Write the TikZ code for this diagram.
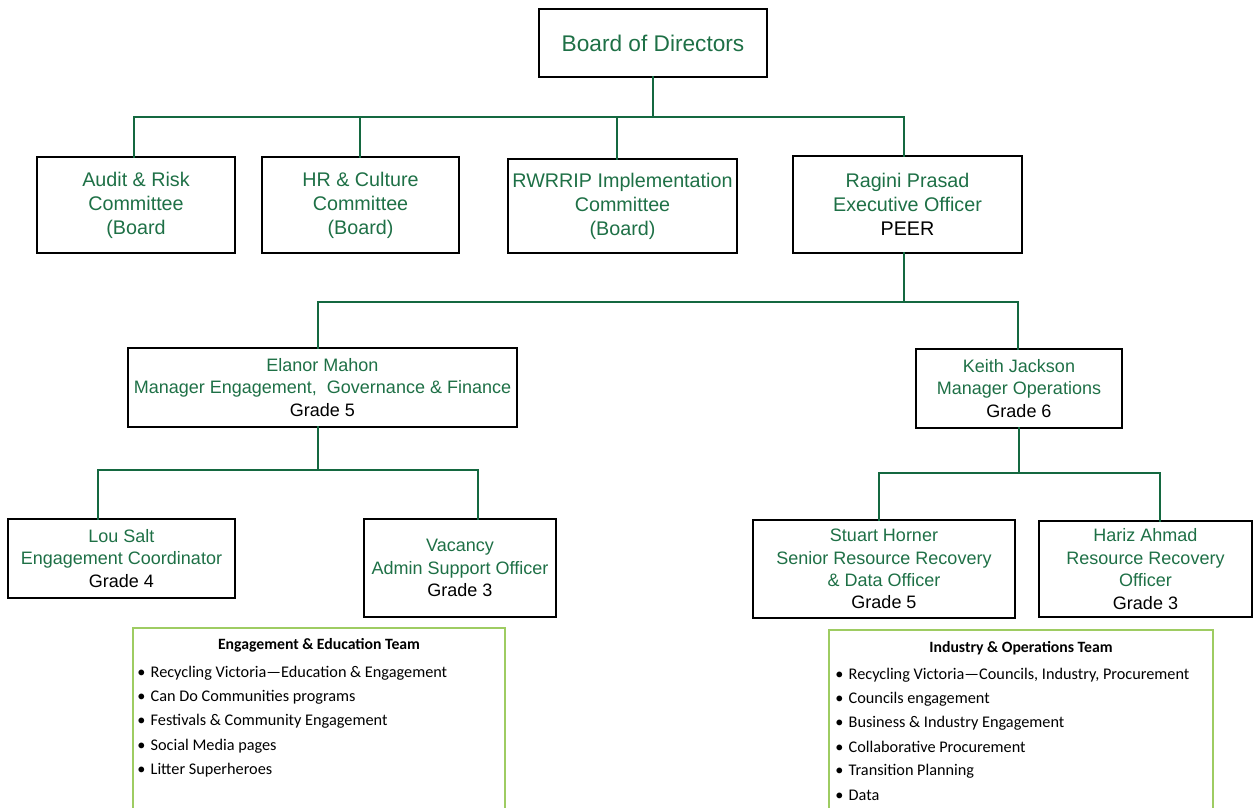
\documentclass[tikz,border=0pt]{standalone}
\usepackage{fontspec}
\setmainfont{Liberation Sans}
\newfontfamily\teamfont{Carlito}
\usetikzlibrary{positioning}
\definecolor{orggreen}{RGB}{30,112,70}
\definecolor{linegreen}{RGB}{20,104,64}
\definecolor{teamgreen}{RGB}{158,204,98}
\tikzset{
    boardbox/.style={draw=black, line width=1pt, align=center, text=orggreen, font=\fontsize{17}{20}\selectfont},
    committee/.style={draw=black, line width=1.1pt, align=center, text=orggreen, font=\fontsize{14.8}{18}\selectfont},
    staff/.style={draw=black, line width=0.9pt, align=center, text=orggreen, font=\fontsize{13.5}{16.8}\selectfont},
    link/.style={draw=linegreen, line width=2.2pt, line cap=rect},
    team/.style={draw=teamgreen, line width=1.5pt},
    teamtitle/.style={font=\teamfont\bfseries\fontsize{11.8}{13}\selectfont},
    teamitem/.style={anchor=west, inner sep=0pt, font=\teamfont\fontsize{12.2}{14}\selectfont}
}

\begin{document}
\begin{tikzpicture}[x=0.75pt, y=-0.75pt]
        \useasboundingbox (0,0) rectangle (1253,807);
        \clip (0,0) rectangle (1253,807);

        % -----------------------------------------------------------------
        % BOARD AND COMMITTEES
        % -----------------------------------------------------------------
        \node[boardbox, minimum width=171pt, minimum height=51pt] (board) at (653,43) {Board of Directors};

        \node[committee, minimum width=148.5pt, minimum height=72pt] (audit) at (136,205) {Audit \& Risk\\Committee\\(Board};
        \node[committee, minimum width=147.75pt, minimum height=72pt] (hr) at (360.5,205) {HR \& Culture\\Committee\\(Board)};
        \node[committee, minimum width=170.25pt, minimum height=70.5pt] (rwrrip) at (622.5,206) {RWRRIP Implementation\\Committee\\(Board)};
        \node[committee, minimum width=171.75pt, minimum height=72.75pt] (ragini) at (907.5,204.5) {Ragini Prasad\\Executive Officer\\\textcolor{black}{PEER}};

        \coordinate (topBus) at (653,117);
        \draw[link] (board.south) -- (topBus);
        \draw[link] (134,117) -- (904,117);
        \foreach \n/\x in {audit/134, hr/360, rwrrip/617, ragini/904}
            \draw[link] (\x,117) -- (\x,117 |- \n.north);

        % -----------------------------------------------------------------
        % MANAGERS
        % -----------------------------------------------------------------
        \node[staff, minimum width=291.75pt, minimum height=59.25pt] (elanor) at (322.5,387.5) {Elanor Mahon\\Manager Engagement,\ \ Governance \& Finance\\\textcolor{black}{Grade 5}};
        \node[staff, minimum width=154.5pt, minimum height=59.25pt] (keith) at (1019,388.5) {Keith Jackson\\Manager Operations\\\textcolor{black}{Grade 6}};

        \coordinate (midL) at (318,302);
        \coordinate (midR) at (1018,302);
        \draw[link] (904,253 |- ragini.south) -- (904,302);
        \draw[link] (midL) -- (midR);
        \draw[link] (midL) -- (midL |- elanor.north);
        \draw[link] (midR) -- (midR |- keith.north);

        % -----------------------------------------------------------------
        % STAFF
        % -----------------------------------------------------------------
        \node[staff, minimum width=170.25pt, minimum height=59.25pt] (lou) at (121.5,558.5) {Lou Salt\\Engagement Coordinator\\\textcolor{black}{Grade 4}};
        \node[staff, minimum width=144pt, minimum height=73.5pt] (vacancy) at (460,568) {Vacancy\\Admin Support Officer\\\textcolor{black}{Grade 3}};
        \node[staff, minimum width=196.5pt, minimum height=73.5pt] (stuart) at (884,569) {Stuart Horner\\Senior Resource Recovery\\\& Data Officer\\\textcolor{black}{Grade 5}};
        \node[staff, minimum width=159.75pt, minimum height=72pt] (hariz) at (1145.5,569) {Hariz Ahmad\\Resource Recovery\\Officer\\\textcolor{black}{Grade 3}};

        \coordinate (engBus) at (318,470);
        \coordinate (engL) at (98,470);
        \coordinate (engR) at (478,470);
        \draw[link] (engBus |- elanor.south) -- (engBus);
        \draw[link] (engL) -- (engR);
        \draw[link] (engL) -- (engL |- lou.north);
        \draw[link] (engR) -- (engR |- vacancy.north);

        \coordinate (opsL) at (879,473);
        \coordinate (opsR) at (1160,473);
        \draw[link] (keith.south) -- (keith.south |- opsL);
        \draw[link] (opsL) -- (opsR);
        \draw[link] (opsL) -- (opsL |- stuart.north);
        \draw[link] (opsR) -- (opsR |- hariz.north);

        % -----------------------------------------------------------------
        % TEAMS
        % -----------------------------------------------------------------
        \draw[team] (133,628) rectangle (505,830);
        \node[teamtitle] (engtitle) at (319,645) {Engagement \& Education Team};
        \foreach \txt [count=\i] in {{Recycling Victoria—Education \& Engagement}, Can Do Communities programs, Festivals \& Community Engagement, Social Media pages, Litter Superheroes}
            \node[teamitem] (eng\i) at (137,{673+24.3*(\i-1)}) {\textbullet\hspace{4pt}\txt};

        \draw[team] (829,630) rectangle (1213,830);
        \node[teamtitle] (opstitle) at (1021,648) {Industry \& Operations Team};
        \foreach \txt [count=\i] in {{Recycling Victoria—Councils, Industry, Procurement}, Councils engagement, Business \& Industry Engagement, Collaborative Procurement, Transition Planning, Data}
            \node[teamitem] (ops\i) at (835,{675+24*(\i-1)}) {\textbullet\hspace{4pt}\txt};

    \end{tikzpicture}
\end{document}
